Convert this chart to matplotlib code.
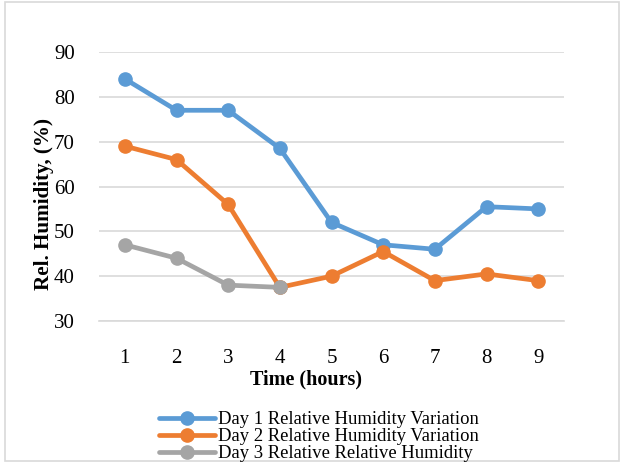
import matplotlib.pyplot as plt
from matplotlib.patches import Rectangle

hours = [1, 2, 3, 4, 5, 6, 7, 8, 9]
day1 = [84, 77, 77, 68.5, 52, 47, 46, 55.5, 55]
day2 = [69, 66, 56, 37.5, 40, 45.5, 39, 40.5, 39]
day3 = [47, 44, 38, 37.5]

labels = ["Day 1 Relative Humidity Variation",
          "Day 2 Relative Humidity Variation",
          "Day 3 Relative Relative Humidity"]
colors = ["#5B9BD5", "#ED7D31", "#A5A5A5"]

plt.rcParams['font.family'] = ['Liberation Serif', 'DejaVu Serif']

fig = plt.figure(figsize=(6.21, 4.62), dpi=100)
ax = fig.add_axes([99/621, 1 - 321/462, 465/621, 269/462])

series = [day1, day2, day3]
for vals, lab, col in zip(series, labels, colors):
    ax.plot(hours[:len(vals)], vals, color=col, lw=3.4, marker='o', ms=9.5,
            label=lab, solid_capstyle='round', clip_on=False)

ax.set_xlim(0.5, 9.5)
ax.set_ylim(30, 90)
ax.set_yticks(range(30, 91, 10))
ax.set_xticks(hours)
ax.grid(axis='y', color='#D9D9D9', lw=1.2)
ax.set_axisbelow(True)
for s in ['top', 'right', 'left']:
    ax.spines[s].set_visible(False)
ax.spines['bottom'].set_color('#D9D9D9')
ax.spines['bottom'].set_linewidth(1.2)
ax.tick_params(length=0, labelsize=15)
ax.tick_params(axis='y', pad=17.5)
ax.tick_params(axis='x', pad=20)

fig.text(306/621, 1 - 379/462, "Time (hours)", fontsize=14.5,
         fontweight='bold', ha='center', va='center')
fig.text(44/621, 1 - 204/462, "Rel. Humidity, (%)", rotation=90,
         fontsize=15.2, fontweight='bold', ha='center', va='center')

fig.legend(loc='upper left', bbox_to_anchor=(150/621, 1 - 402/462),
           frameon=False, fontsize=13.4, labelspacing=0.0,
           handlelength=3.0, handletextpad=0.15, borderpad=0)

# chart border
fig.patches.append(Rectangle((5/621, 0.002), 614/621, 1 - 2/462 - 0.002,
                             transform=fig.transFigure, fill=False,
                             edgecolor='#D9D9D9', lw=1.2))

fig.savefig("out.png", dpi=100)
